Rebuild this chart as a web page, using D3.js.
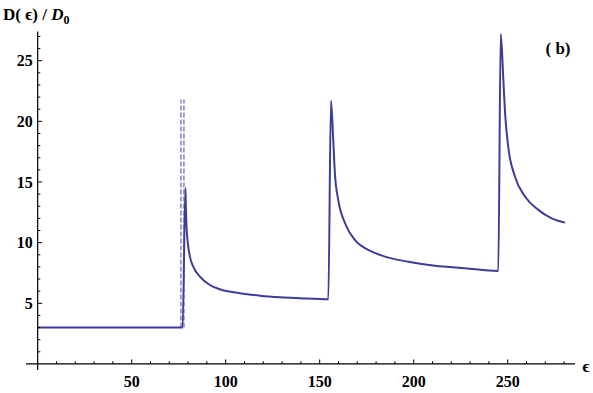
<!DOCTYPE html>
<html><head><meta charset="utf-8">
<script src="https://cdn.jsdelivr.net/npm/d3@7"></script>
<style>body{margin:0;background:#fff}svg{display:block}text{font-family:"Liberation Serif","Times New Roman",serif;font-weight:bold;fill:#000}</style>
</head><body>
<svg id="c" width="593" height="393"></svg>
<script>
// energy values (epsilon) and D(eps)/D0
const eps = [0,77.1,78.6,78.9,79.3,81.0,82.8,86.3,91.6,96.9,107.6,118.2,128.9,139.5,154.6,
             156.0,157.2,158.1,159.9,163.5,168.8,175.9,184.7,197.1,211.3,227.3,245.0,
             246.3,247.7,248.6,250.3,253.9,259.2,266.3,273.4,280.5];
const dos = [3.0,3.0,14.5,12.45,11.0,8.85,8.0,7.2,6.51,6.16,5.83,5.63,5.50,5.42,5.33,
             21.7,18.5,15.7,13.5,11.6,10.2,9.4,8.85,8.43,8.1,7.89,7.67,
             27.2,23.4,20.7,17.9,15.44,13.8,12.7,12.0,11.65];
const dashedEps = [76.2, 77.8];
const dashedRange = [3.0, 21.8];
const xMajor = [50,100,150,200,250];
const xMinor = [10,20,30,40,60,70,80,90,110,120,130,140,160,170,180,190,210,220,230,240,260,270,280];
const yMajor = [5,10,15,20,25];
const yMinor = [1,2,3,4,6,7,8,9,11,12,13,14,16,17,18,19,21,22,23,24,26,27];

const svg = d3.select("#c");
const x = d3.scaleLinear().domain([-6.2,285.8]).range([26,575]);
const y = d3.scaleLinear().domain([-0.5,27.4]).range([370,31.6]);

// dashed lines
svg.append("g").selectAll("line").data(dashedEps).join("line")
  .attr("x1",d=>x(d)).attr("x2",d=>x(d))
  .attr("y1",y(dashedRange[0])).attr("y2",y(dashedRange[1]))
  .attr("stroke","#7a7ac4").attr("stroke-width",1.4).attr("stroke-dasharray","5,2");

// main curve
const pts = eps.map((e,i)=>[e,dos[i]]);
svg.append("path").datum(pts)
  .attr("d", d3.line().x(d=>x(d[0])).y(d=>y(d[1])).curve(d3.curveMonotoneX))
  .attr("fill","none").attr("stroke","#3d3d99").attr("stroke-width",2).attr("stroke-linejoin","round");

// axes
const ax = svg.append("g").attr("stroke","#000").attr("stroke-width",1.2);
ax.append("line").attr("x1",x(-6.2)).attr("x2",x(285.8)).attr("y1",y(0)).attr("y2",y(0));
ax.append("line").attr("x1",x(0)).attr("x2",x(0)).attr("y1",y(-0.5)).attr("y2",y(27.4));
ax.selectAll(".xM").data(xMajor).join("line").attr("x1",d=>x(d)).attr("x2",d=>x(d)).attr("y1",y(0)).attr("y2",y(0)-4.5).attr("stroke-width",1);
ax.selectAll(".xm").data(xMinor).join("line").attr("class","xm").attr("x1",d=>x(d)).attr("x2",d=>x(d)).attr("y1",y(0)).attr("y2",y(0)-2.7).attr("stroke-width",1);
ax.selectAll(".yM").data(yMajor).join("line").attr("class","yM").attr("y1",d=>y(d)).attr("y2",d=>y(d)).attr("x1",x(0)).attr("x2",x(0)+4.5).attr("stroke-width",1);
ax.selectAll(".ym").data(yMinor).join("line").attr("class","ym").attr("y1",d=>y(d)).attr("y2",d=>y(d)).attr("x1",x(0)).attr("x2",x(0)+2.7).attr("stroke-width",1);

svg.append("g").selectAll("text").data(xMajor).join("text")
  .attr("x",d=>x(d)).attr("y",y(0)+23).attr("text-anchor","middle").attr("font-size",16).text(d=>d);
svg.append("g").selectAll("text").data(yMajor).join("text")
  .attr("x",x(0)-5).attr("y",d=>y(d)+5.5).attr("text-anchor","end").attr("font-size",16).text(d=>d);

// labels
const t = svg.append("text").attr("x",3).attr("y",20).attr("font-size",17);
t.append("tspan").text("D( ϵ) / ");
t.append("tspan").attr("font-style","italic").text("D");
t.append("tspan").attr("font-size",12).attr("dy",4).text("0");
svg.append("text").attr("x",586).attr("y",372).attr("text-anchor","middle").attr("font-size",17).text("ϵ");
svg.append("text").attr("x",558).attr("y",54).attr("text-anchor","middle").attr("font-size",17).text("( b)");
</script>
</body></html>
